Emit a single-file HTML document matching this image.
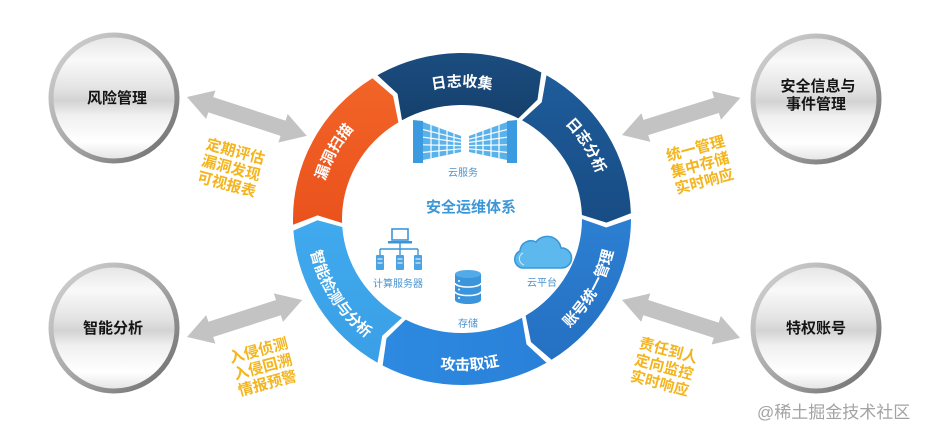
<!DOCTYPE html>
<html>
<head>
<meta charset="utf-8">
<style>
  html,body{margin:0;padding:0;background:#fff;}
  body{width:932px;height:437px;overflow:hidden;}
  svg{display:block;font-family:"Liberation Sans","Noto Sans CJK SC","WenQuanYi Zen Hei",sans-serif;}
  .seg{font-size:15px;font-weight:bold;fill:#ffffff;}
  .lbl{font-size:15px;font-weight:bold;fill:#141414;}
  .yel{font-size:15px;font-weight:bold;fill:#f4b41c;stroke:#ffffff;stroke-width:1.2px;paint-order:stroke;}
  .small{font-size:10px;fill:#4a93cf;}
</style>
</head>
<body>
<svg width="932" height="437" viewBox="0 0 932 437" xmlns="http://www.w3.org/2000/svg">
  <defs>
    <linearGradient id="face" x1="0" y1="0" x2="0" y2="1">
      <stop offset="0" stop-color="#e4e4e4"/>
      <stop offset="0.2" stop-color="#f9f9f9"/>
      <stop offset="0.42" stop-color="#e4e4e4"/>
      <stop offset="0.52" stop-color="#d3d3d3"/>
      <stop offset="0.64" stop-color="#f0f0f0"/>
      <stop offset="0.85" stop-color="#ffffff"/>
      <stop offset="1" stop-color="#e2e2e2"/>
    </linearGradient>
    <linearGradient id="rim" x1="0" y1="0" x2="1" y2="1">
      <stop offset="0" stop-color="#d6d6d6"/>
      <stop offset="0.5" stop-color="#a8a8a8"/>
      <stop offset="1" stop-color="#6a6a6a"/>
    </linearGradient>
    <linearGradient id="g1" x1="0" y1="0" x2="0" y2="1">
      <stop offset="0" stop-color="#1b4d80"/><stop offset="1" stop-color="#15406c"/>
    </linearGradient>
    <linearGradient id="g2" x1="0" y1="0" x2="0" y2="1">
      <stop offset="0" stop-color="#1e5c9a"/><stop offset="1" stop-color="#184c84"/>
    </linearGradient>
    <linearGradient id="g3" x1="0" y1="0" x2="0" y2="1">
      <stop offset="0" stop-color="#2c7fd2"/><stop offset="1" stop-color="#2570c2"/>
    </linearGradient>
    <linearGradient id="g4" x1="0" y1="0" x2="1" y2="0">
      <stop offset="0" stop-color="#2d8ae0"/><stop offset="1" stop-color="#2a80d8"/>
    </linearGradient>
    <linearGradient id="g5" x1="0" y1="0" x2="0" y2="1">
      <stop offset="0" stop-color="#40aaee"/><stop offset="1" stop-color="#3a9fe6"/>
    </linearGradient>
    <linearGradient id="g6" x1="0" y1="0" x2="0" y2="1">
      <stop offset="0" stop-color="#f26428"/><stop offset="1" stop-color="#ea521c"/>
    </linearGradient>

    <!-- text paths -->
    <path id="t1" d="M 364.07 124.25 A 142.5 138 0 0 1 559.93 124.25"/>
    <path id="t2" d="M 496.47 85.10 A 142.5 138 0 0 1 600.27 252.38"/>
    <path id="t6" d="M 325.73 259.35 A 142.5 138 0 0 1 420.33 87.03"/>
    <path id="t3" d="M 504.72 364.16 A 155 151 0 0 0 611.0 177.38"/>
    <path id="t4" d="M 358.29 331.21 A 155 151 0 0 0 577.18 320.03"/>
    <path id="t5" d="M 310.97 185.02 A 155 151 0 0 0 427.12 366.13"/>
  </defs>

  <!-- ===== Ring segments ===== -->
  <path fill="url(#g1)" d="M 377.5 75.24 A 169 166 0 0 1 541.35 72.44 L 537.5 99.64 L 518.34 118.35 A 120 114 0 0 0 402 120.28 L 397.52 93.71 Z"/>
  <path fill="url(#g2)" d="M 546.5 75.24 A 169 166 0 0 1 630.9 213.21 L 606.46 222.67 L 581.93 215.02 A 120 114 0 0 0 522 120.28 L 541.75 102.25 Z"/>
  <path fill="url(#g3)" d="M 631 219 A 169 166 0 0 1 551.55 359.77 L 530.96 342.03 L 525.59 315.67 A 120 114 0 0 0 582 219 L 606.23 227.54 Z"/>
  <path fill="url(#g4)" d="M 546.5 362.76 A 169 166 0 0 1 382.65 365.56 L 386.5 338.36 L 405.66 319.65 A 120 114 0 0 0 522 317.72 L 526.48 344.29 Z"/>
  <path fill="url(#g5)" d="M 377.5 362.76 A 169 166 0 0 1 293.41 230.59 L 317.5 220.22 L 342.29 226.96 A 120 114 0 0 0 402 317.72 L 382.25 335.75 Z"/>
  <path fill="url(#g6)" d="M 293.10 224.79 A 169 166 0 0 1 372.45 78.23 L 393.04 95.97 L 398.41 122.33 A 120 114 0 0 0 342.07 222.98 L 317.54 215.33 Z"/>

  <!-- segment labels -->
  <text class="seg"><textPath href="#t1" startOffset="50%" text-anchor="middle">日志收集</textPath></text>
  <text class="seg"><textPath href="#t2" startOffset="50%" text-anchor="middle">日志分析</textPath></text>
  <text class="seg"><textPath href="#t6" startOffset="50%" text-anchor="middle">漏洞扫描</textPath></text>
  <text class="seg"><textPath href="#t3" startOffset="50%" text-anchor="middle">账号统一管理</textPath></text>
  <text class="seg"><textPath href="#t4" startOffset="50%" text-anchor="middle">攻击取证</textPath></text>
  <text class="seg"><textPath href="#t5" startOffset="50%" text-anchor="middle">智能检测与分析</textPath></text>

  <!-- ===== Center content ===== -->
  <!-- cloud service buildings -->
  <g id="bldg">
    <polygon points="413,120 423,121 423,163 413,163" fill="#3b9ae0"/>
    <polygon points="423,122 461,136 461,152 423,160" fill="#5ab2ea"/>
    <g stroke="#ffffff" stroke-width="1.2">
      <line x1="431" y1="124.9" x2="431" y2="158.3"/>
      <line x1="439" y1="127.9" x2="439" y2="156.6"/>
      <line x1="447" y1="130.8" x2="447" y2="154.9"/>
      <line x1="454" y1="133.4" x2="454" y2="153.5"/>
      <line x1="423" y1="129.6" x2="461" y2="139.2"/>
      <line x1="423" y1="137.2" x2="461" y2="142.4"/>
      <line x1="423" y1="144.8" x2="461" y2="145.6"/>
      <line x1="423" y1="152.4" x2="461" y2="148.8"/>
    </g>
  </g>
  <g transform="translate(930,0) scale(-1,1)">
    <polygon points="413,120 423,121 423,163 413,163" fill="#3b9ae0"/>
    <polygon points="423,122 461,136 461,152 423,160" fill="#5ab2ea"/>
    <g stroke="#ffffff" stroke-width="1.2">
      <line x1="431" y1="124.9" x2="431" y2="158.3"/>
      <line x1="439" y1="127.9" x2="439" y2="156.6"/>
      <line x1="447" y1="130.8" x2="447" y2="154.9"/>
      <line x1="454" y1="133.4" x2="454" y2="153.5"/>
      <line x1="423" y1="129.6" x2="461" y2="139.2"/>
      <line x1="423" y1="137.2" x2="461" y2="142.4"/>
      <line x1="423" y1="144.8" x2="461" y2="145.6"/>
      <line x1="423" y1="152.4" x2="461" y2="148.8"/>
    </g>
  </g>
  <text class="small" x="463" y="176" text-anchor="middle">云服务</text>

  <text x="471" y="212" text-anchor="middle" font-size="15" font-weight="bold" fill="#3a97d8">安全运维体系</text>

  <!-- compute servers icon -->
  <rect x="392" y="229" width="16" height="11" fill="#ffffff" stroke="#3b95d8" stroke-width="1.6"/>
  <rect x="388" y="241" width="24" height="2.5" fill="#3b95d8"/>
  <g stroke="#3b95d8" stroke-width="1.4" fill="none">
    <line x1="400" y1="243" x2="400" y2="255"/>
    <line x1="380" y1="249" x2="418" y2="249"/>
    <line x1="380" y1="249" x2="380" y2="255"/>
    <line x1="418" y1="249" x2="418" y2="255"/>
  </g>
  <g fill="#4aa3e2">
    <rect x="376" y="255" width="8" height="15" rx="1"/>
    <rect x="396" y="255" width="8" height="15" rx="1"/>
    <rect x="414" y="255" width="8" height="15" rx="1"/>
  </g>
  <g stroke="#ffffff" stroke-width="1">
    <line x1="377.5" y1="259" x2="382.5" y2="259"/><line x1="377.5" y1="263" x2="382.5" y2="263"/>
    <line x1="397.5" y1="259" x2="402.5" y2="259"/><line x1="397.5" y1="263" x2="402.5" y2="263"/>
    <line x1="415.5" y1="259" x2="420.5" y2="259"/><line x1="415.5" y1="263" x2="420.5" y2="263"/>
  </g>
  <text class="small" x="398" y="287" text-anchor="middle">计算服务器</text>

  <!-- database icon -->
  <rect x="455" y="274" width="26" height="26" fill="#3a95dc"/>
  <ellipse cx="468" cy="274" rx="13" ry="4" fill="#52aae8"/>
  <ellipse cx="468" cy="300" rx="13" ry="4" fill="#3a95dc"/>
  <path d="M 455 283 A 13 4 0 0 0 481 283" stroke="#ffffff" stroke-width="1.6" fill="none"/>
  <path d="M 455 291.5 A 13 4 0 0 0 481 291.5" stroke="#ffffff" stroke-width="1.6" fill="none"/>
  <g fill="#ffffff">
    <circle cx="459" cy="281" r="1"/><circle cx="459" cy="289.5" r="1"/><circle cx="459" cy="298" r="1"/>
  </g>
  <text class="small" x="468" y="327" text-anchor="middle">存储</text>

  <!-- cloud platform icon -->
  <path d="M 522 268 A 9 9 0 0 1 520 251 A 11 11 0 0 1 536 242 A 14 14 0 0 1 561 248 A 10 10 0 0 1 562 268 Z" fill="#5db8ee" stroke="#3a98d8" stroke-width="1.6"/>
  <path d="M 524 265 A 6.5 6.5 0 0 1 523 253" fill="none" stroke="#ffffff" stroke-width="1" opacity="0.7"/>
  <text class="small" x="542" y="286" text-anchor="middle">云平台</text>

  <!-- ===== Double arrows ===== -->
  <g fill="#c3c3c3">
    <g transform="translate(187,97) rotate(18)">
      <polygon points="0,0 25,-15 25,-8 101,-8 101,-15 126,0 101,15 101,8 25,8 25,15"/>
    </g>
    <g transform="translate(187,337) rotate(-17.8)">
      <polygon points="0,0 25,-15 25,-8 96,-8 96,-15 121,0 96,15 96,8 25,8 25,15"/>
    </g>
    <g transform="translate(622,135) rotate(-17.4)">
      <polygon points="0,0 25,-15 25,-8 99,-8 99,-15 124,0 99,15 99,8 25,8 25,15"/>
    </g>
    <g transform="translate(622,300) rotate(17.8)">
      <polygon points="0,0 25,-15 25,-8 99,-8 99,-15 124,0 99,15 99,8 25,8 25,15"/>
    </g>
  </g>

  <!-- yellow captions -->
  <g transform="translate(231,168) rotate(15)">
    <text class="yel" x="0" y="-12" text-anchor="middle">定期评估</text>
    <text class="yel" x="0" y="5" text-anchor="middle">漏洞发现</text>
    <text class="yel" x="0" y="22" text-anchor="middle">可视报表</text>
  </g>
  <g transform="translate(263,367) rotate(-15)">
    <text class="yel" x="0" y="-12" text-anchor="middle">入侵侦测</text>
    <text class="yel" x="0" y="5" text-anchor="middle">入侵回溯</text>
    <text class="yel" x="0" y="22" text-anchor="middle">情报预警</text>
  </g>
  <g transform="translate(700,165) rotate(-15)">
    <text class="yel" x="0" y="-12" text-anchor="middle">统一管理</text>
    <text class="yel" x="0" y="5" text-anchor="middle">集中存储</text>
    <text class="yel" x="0" y="22" text-anchor="middle">实时响应</text>
  </g>
  <g transform="translate(664,367) rotate(15)">
    <text class="yel" x="0" y="-12" text-anchor="middle">责任到人</text>
    <text class="yel" x="0" y="5" text-anchor="middle">定向监控</text>
    <text class="yel" x="0" y="22" text-anchor="middle">实时响应</text>
  </g>

  <!-- ===== Silver circles ===== -->
  <g>
    <circle cx="114" cy="98" r="63" fill="url(#face)" stroke="url(#rim)" stroke-width="5"/>
    <circle cx="114" cy="328" r="63" fill="url(#face)" stroke="url(#rim)" stroke-width="5"/>
    <circle cx="816" cy="99" r="63" fill="url(#face)" stroke="url(#rim)" stroke-width="5"/>
    <circle cx="816" cy="328" r="63" fill="url(#face)" stroke="url(#rim)" stroke-width="5"/>
  </g>
  <text class="lbl" x="117" y="103" text-anchor="middle">风险管理</text>
  <text class="lbl" x="113" y="333" text-anchor="middle">智能分析</text>
  <text class="lbl" x="818" y="91" text-anchor="middle">安全信息与</text>
  <text class="lbl" x="816" y="109" text-anchor="middle">事件管理</text>
  <text class="lbl" x="816" y="333" text-anchor="middle">特权账号</text>

  <!-- watermark -->
  <text x="757" y="418" font-size="17" fill="#a3a3a3">@稀土掘金技术社区</text>
</svg>
</body>
</html>
